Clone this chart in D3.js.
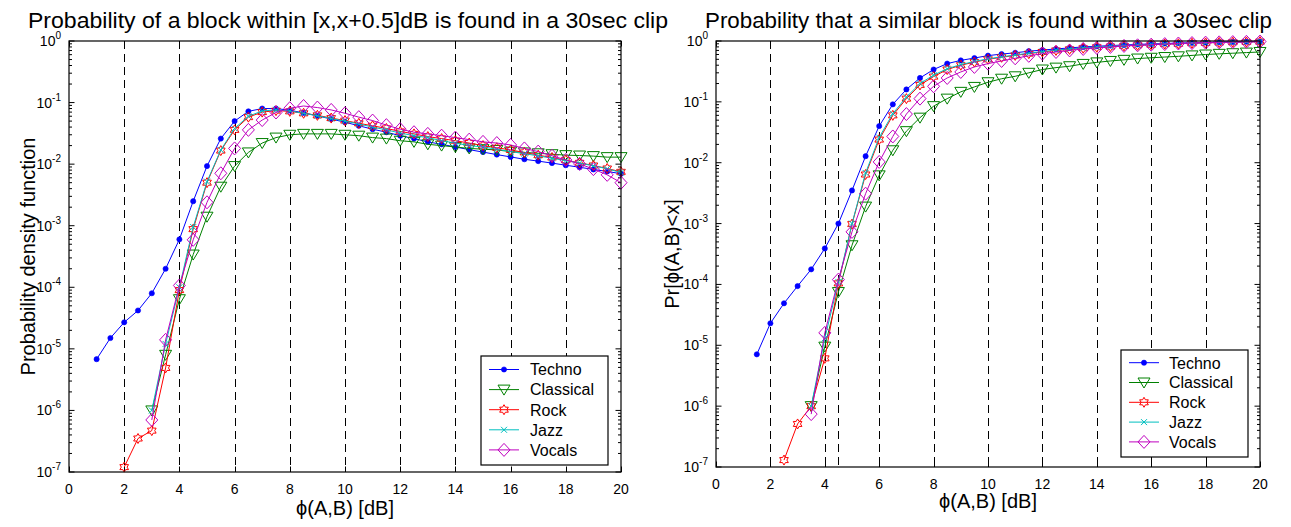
<!DOCTYPE html>
<html><head><meta charset="utf-8">
<script src="https://cdn.jsdelivr.net/npm/d3@7"></script>
<style>
body{margin:0;background:#fff}
svg{display:block}
text{font-family:"Liberation Sans",Arial,Helvetica,sans-serif;fill:#000}
</style>
</head><body>
<svg id="chart" width="1291" height="527"></svg>
<script>
// ---------------- DATA ----------------
const seriesNames = ["Techno","Classical","Rock","Jazz","Vocals"];
const xTickValues = [0,2,4,6,8,10,12,14,16,18,20];
const yTickExponents = [0,-1,-2,-3,-4,-5,-6,-7];
const leftGridX = [2,4,6,8,10,12,14,16,18];
const rightGridX = [2,4,4.5,6,8,10,12,14,16,18];

const leftX = [1,1.5,2,2.5,3,3.5,4,4.5,5,5.5,6,6.5,7,7.5,8,8.5,9,9.5,10,10.5,11,11.5,12,12.5,13,13.5,14,14.5,15,15.5,16,16.5,17,17.5,18,18.5,19,19.5,20];
const leftTechno = [6.8e-6,1.5e-5,2.7e-5,4.2e-5,8e-5,2.0e-4,6.0e-4,2.5e-3,9.3e-3,0.026,0.050,0.072,0.080,0.080,0.075,0.068,0.061,0.054,0.048,0.042,0.037,0.033,0.029,0.026,0.023,0.021,0.019,0.0172,0.0157,0.0143,0.0131,0.0120,0.0112,0.0104,0.0096,0.0089,0.0082,0.0076,0.0070];
const leftClassical = [null,null,null,null,1e-6,8e-6,6.4e-5,3.4e-4,1.4e-3,4.3e-3,9.3e-3,0.0155,0.022,0.027,0.030,0.031,0.031,0.031,0.030,0.029,0.027,0.026,0.024,0.023,0.021,0.020,0.019,0.018,0.0175,0.017,0.016,0.0155,0.015,0.0145,0.014,0.0138,0.0135,0.013,0.013];
const leftRock = [null,null,1.2e-7,3.5e-7,4.7e-7,4.9e-6,9e-5,8.8e-4,5e-3,0.0166,0.036,0.058,0.070,0.074,0.072,0.067,0.062,0.056,0.051,0.046,0.042,0.038,0.034,0.031,0.028,0.026,0.024,0.022,0.020,0.0185,0.017,0.0155,0.014,0.0128,0.0116,0.0105,0.0095,0.0085,0.0075];
const leftJazz = [null,null,null,null,1e-6,1.2e-5,1.0e-4,9.5e-4,5.2e-3,0.017,0.038,0.060,0.073,0.076,0.073,0.067,0.061,0.055,0.050,0.045,0.040,0.036,0.032,0.029,0.027,0.024,0.022,0.020,0.019,0.0175,0.016,0.0148,0.0136,0.0125,0.0114,0.0104,0.0094,0.0084,0.0073];
const leftVocals = [null,null,null,null,7e-7,1.4e-5,1.07e-4,5.9e-4,2.4e-3,7.1e-3,0.018,0.036,0.052,0.069,0.081,0.088,0.083,0.076,0.067,0.058,0.051,0.043,0.037,0.033,0.031,0.029,0.027,0.025,0.023,0.022,0.0205,0.018,0.016,0.0137,0.0117,0.0101,0.0083,0.0067,0.005];

const rightX = [1.5,2,2.5,3,3.5,4,4.5,5,5.5,6,6.5,7,7.5,8,8.5,9,9.5,10,10.5,11,11.5,12,12.5,13,13.5,14,14.5,15,15.5,16,16.5,17,17.5,18,18.5,19,19.5,20];
const rightTechno = [7.1e-6,2.3e-5,4.9e-5,9.4e-5,1.77e-4,3.9e-4,1e-3,3.5e-3,0.0128,0.040,0.091,0.16,0.247,0.34,0.425,0.48,0.525,0.575,0.61,0.64,0.68,0.71,0.74,0.77,0.80,0.82,0.84,0.86,0.88,0.895,0.91,0.925,0.935,0.945,0.955,0.965,0.975,0.98];
const rightClassical = [null,null,null,null,1e-6,9.5e-6,7.5e-5,4.4e-4,1.9e-3,6.2e-3,0.016,0.033,0.055,0.085,0.113,0.146,0.176,0.21,0.24,0.263,0.30,0.34,0.365,0.385,0.42,0.445,0.47,0.49,0.515,0.53,0.545,0.56,0.58,0.60,0.615,0.63,0.645,0.66];
const rightRock = [null,null,1.3e-7,5.1e-7,1e-6,6.1e-6,1.04e-4,9.8e-4,6.4e-3,0.024,0.060,0.113,0.19,0.26,0.34,0.40,0.45,0.50,0.54,0.58,0.62,0.66,0.70,0.73,0.76,0.79,0.81,0.83,0.85,0.87,0.89,0.90,0.92,0.93,0.945,0.955,0.965,0.975];
const rightJazz = [null,null,null,null,1e-6,1.3e-5,1.1e-4,1.0e-3,6.8e-3,0.026,0.064,0.12,0.20,0.275,0.35,0.41,0.46,0.51,0.55,0.59,0.63,0.67,0.71,0.74,0.77,0.80,0.82,0.84,0.86,0.88,0.895,0.91,0.925,0.935,0.95,0.96,0.97,0.98];
const rightVocals = [null,null,null,null,7.4e-7,1.6e-5,1.2e-4,7.3e-4,3.1e-3,0.0103,0.027,0.063,0.113,0.18,0.247,0.31,0.375,0.425,0.47,0.52,0.57,0.62,0.66,0.70,0.74,0.77,0.80,0.83,0.85,0.87,0.89,0.91,0.925,0.94,0.95,0.96,0.97,0.98];

// ---------------- STYLE ----------------
const colors = ["#0000ff","#008000","#ff0000","#00bfbf","#bf00bf"];
const markerTypes = ["dot","trianglev","hexagram","x","diamond"];
const font = '"Liberation Sans",Arial,Helvetica,sans-serif';

function markerPath(type){
  if(type==="trianglev") return "M-6,-4.5L6,-4.5L0,5.5Z";
  if(type==="diamond") return "M0,-6.5L6,0L0,6.5L-6,0Z";
  if(type==="x") return "M-3,-3L3,3M-3,3L3,-3";
  if(type==="hexagram"){
    const R=5, r=R/Math.sqrt(3); let p=[];
    for(let k=0;k<12;k++){const a=(k*30-90)*Math.PI/180; const rr=k%2?r:R; p.push([rr*Math.cos(a),rr*Math.sin(a)]);}
    return "M"+p.map(q=>q[0].toFixed(2)+","+q[1].toFixed(2)).join("L")+"Z";
  }
  return null;
}
function drawMarker(g,type,color,cx,cy){
  if(type==="dot"){
    g.append("circle").attr("cx",cx).attr("cy",cy).attr("r",2.6).attr("fill",color).attr("stroke",color).attr("stroke-width",0.6);
  } else {
    g.append("path").attr("d",markerPath(type)).attr("transform",`translate(${cx},${cy})`)
      .attr("fill","none").attr("stroke",color).attr("stroke-width",1);
  }
}

const svg = d3.select("#chart");
svg.append("rect").attr("width",1291).attr("height",527).attr("fill","#fff");

const panels = [
  {x0:69,x1:621,yTop:41,yBot:472,xs:leftX,data:[leftTechno,leftClassical,leftRock,leftJazz,leftVocals],grid:leftGridX,
   title:"Probability of a block within [x,x+0.5]dB is found in a 30sec clip",titleCx:348,titleW:640,
   ylabel:"Probability density function",ylabX:35,xlabY:515,
   legend:{x:481,y:356,w:127,h:109,row0:369.5,dy:20.1,lx0:489,lx1:519,tx:530}},
  {x0:716,x1:1260,yTop:41,yBot:467,xs:rightX,data:[rightTechno,rightClassical,rightRock,rightJazz,rightVocals],grid:rightGridX,
   title:"Probability that a similar block is found within a 30sec clip",titleCx:988.5,titleW:567,
   ylabel:"Pr[\u03d5(A,B)<x]",ylabX:679,xlabY:508,
   legend:{x:1121,y:350,w:127,h:107,row0:362.7,dy:19.8,lx0:1129,lx1:1159,tx:1169}}
];

panels.forEach(P=>{
  const x = d3.scaleLinear().domain([0,20]).range([P.x0,P.x1]);
  const y = d3.scaleLog().domain([1e-7,1]).range([P.yBot,P.yTop]);
  const g = svg.append("g");

  // dashed vertical grid
  g.selectAll(null).data(P.grid).enter().append("line")
    .attr("x1",d=>Math.round(x(d))+0.5).attr("x2",d=>Math.round(x(d))+0.5)
    .attr("y1",P.yTop).attr("y2",P.yBot)
    .attr("stroke","#000").attr("stroke-width",1).attr("stroke-dasharray","8,5");

  // ticks
  const tk = g.append("g").attr("stroke","#000").attr("stroke-width",1);
  xTickValues.forEach(v=>{
    const xx=Math.round(x(v))+0.5;
    tk.append("line").attr("x1",xx).attr("x2",xx).attr("y1",P.yBot).attr("y2",P.yBot-5.5);
    tk.append("line").attr("x1",xx).attr("x2",xx).attr("y1",P.yTop).attr("y2",P.yTop+5.5);
  });
  yTickExponents.forEach(e=>{
    const yy=y(Math.pow(10,e));
    tk.append("line").attr("x1",P.x0).attr("x2",P.x0+5.5).attr("y1",yy).attr("y2",yy);
    tk.append("line").attr("x1",P.x1).attr("x2",P.x1-5.5).attr("y1",yy).attr("y2",yy);
    if(e<0){
      for(let k=2;k<=9;k++){
        const ym=y(k*Math.pow(10,e));
        tk.append("line").attr("x1",P.x0).attr("x2",P.x0+3).attr("y1",ym).attr("y2",ym);
        tk.append("line").attr("x1",P.x1).attr("x2",P.x1-3).attr("y1",ym).attr("y2",ym);
      }
    }
  });

  // tick labels
  xTickValues.forEach(v=>{
    g.append("text").attr("x",x(v)).attr("y",P.yBot+21.5).attr("text-anchor","middle")
      .attr("font-size",14).text(v);
  });
  yTickExponents.forEach(e=>{
    const t=g.append("text").attr("x",P.x0-8).attr("y",y(Math.pow(10,e))+5).attr("text-anchor","end").attr("font-size",14);
    t.append("tspan").text("10");
    t.append("tspan").attr("dy",-7).attr("font-size",10).text(String(e));
  });

  // series
  const line = d3.line().defined(d=>d[1]!=null).x(d=>x(d[0])).y(d=>y(d[1]));
  P.data.forEach((arr,i)=>{
    const pts = P.xs.map((xv,j)=>[xv,arr[j]]);
    g.append("path").datum(pts).attr("d",line).attr("fill","none").attr("stroke",colors[i]).attr("stroke-width",1);
    const mg=g.append("g");
    pts.filter(d=>d[1]!=null).forEach(d=>drawMarker(mg,markerTypes[i],colors[i],x(d[0]),y(d[1])));
  });

  // box
  g.append("rect").attr("x",P.x0).attr("y",P.yTop).attr("width",P.x1-P.x0).attr("height",P.yBot-P.yTop)
    .attr("fill","none").attr("stroke","#000").attr("stroke-width",1.2);

  // legend
  const L=P.legend;
  const lg=svg.append("g");
  lg.append("rect").attr("x",L.x).attr("y",L.y).attr("width",L.w).attr("height",L.h)
    .attr("fill","#fff").attr("stroke","#000").attr("stroke-width",1.2);
  seriesNames.forEach((n,i)=>{
    const cy=L.row0+i*L.dy;
    lg.append("line").attr("x1",L.lx0).attr("x2",L.lx1).attr("y1",cy).attr("y2",cy).attr("stroke",colors[i]).attr("stroke-width",1);
    drawMarker(lg,markerTypes[i],colors[i],(L.lx0+L.lx1)/2,cy);
    lg.append("text").attr("x",L.tx).attr("y",cy+5.8).attr("font-size",16).text(n);
  });

  // title & labels
  svg.append("text").attr("x",P.titleCx).attr("y",27.5).attr("text-anchor","middle").attr("font-size",22)
    .attr("textLength",P.titleW).attr("lengthAdjust","spacingAndGlyphs").text(P.title);
  svg.append("text").attr("transform",`translate(${P.ylabX},${(P.yTop+P.yBot)/2}) rotate(-90)`)
    .attr("text-anchor","middle").attr("font-size",20).text(P.ylabel);
  svg.append("text").attr("x",(P.x0+P.x1)/2).attr("y",P.xlabY).attr("text-anchor","middle").attr("font-size",20)
    .text("\u03d5(A,B) [dB]");
});
</script>
</body></html>
